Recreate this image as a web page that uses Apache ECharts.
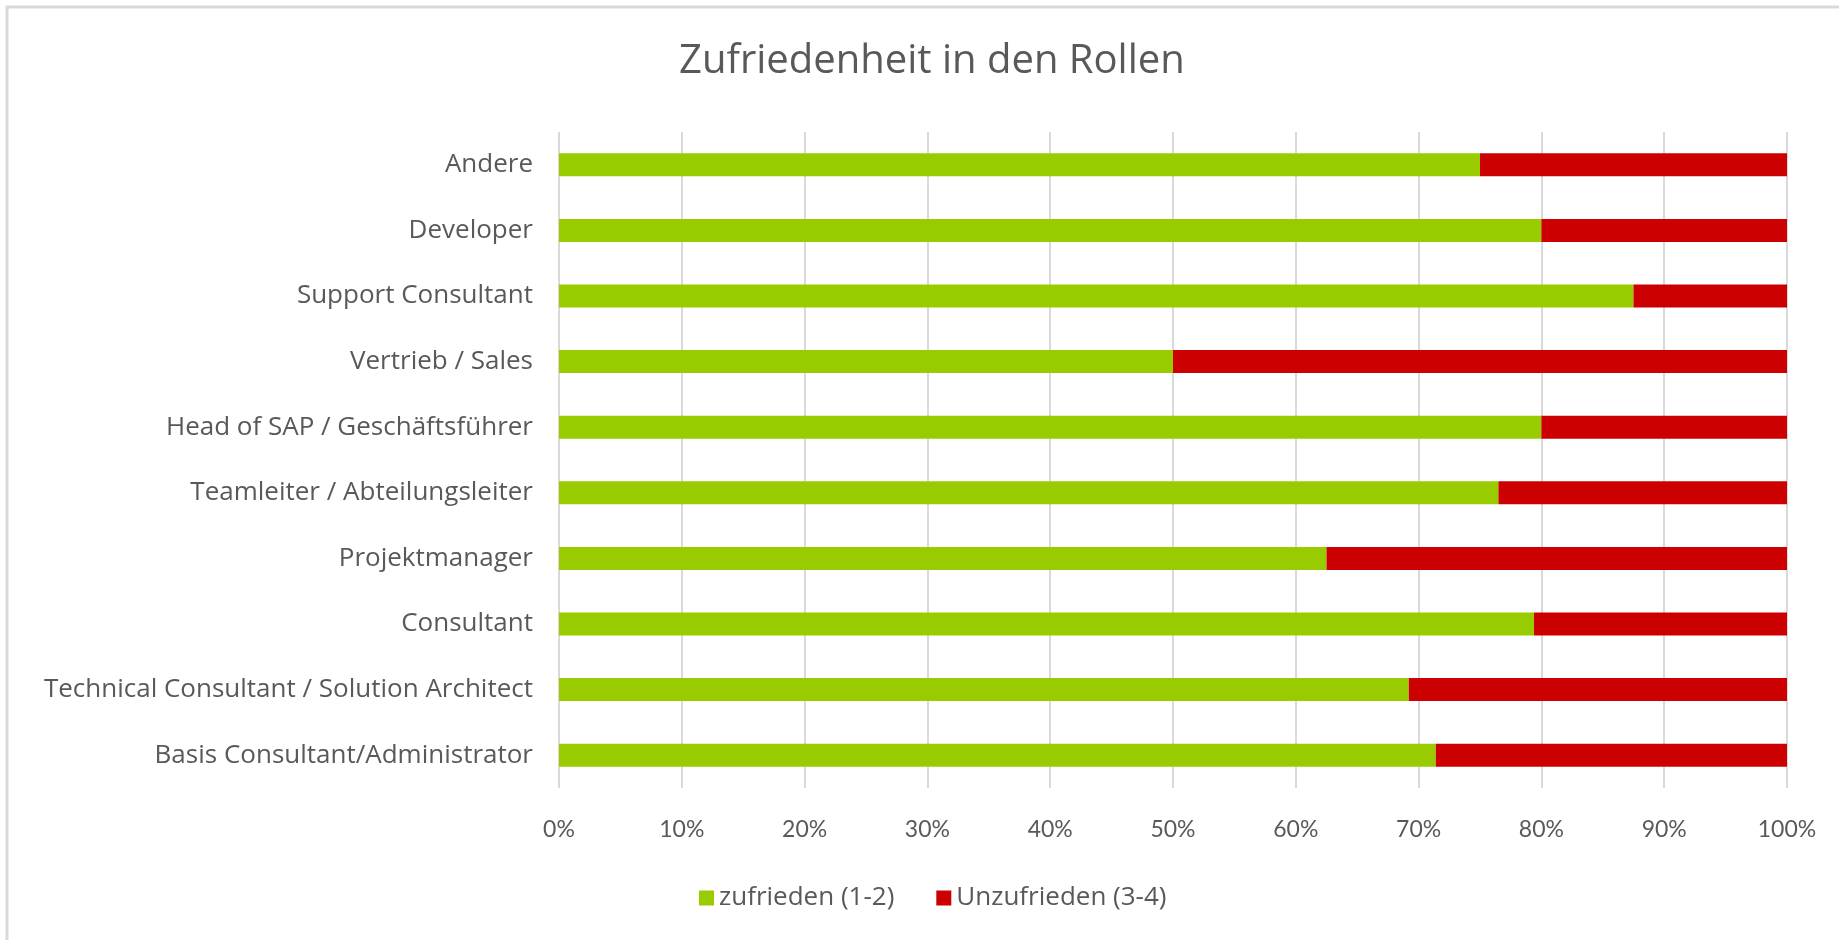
<!DOCTYPE html>
<html>
<head>
<meta charset="utf-8">
<script src="https://cdn.jsdelivr.net/npm/echarts@6/dist/echarts.min.js"></script>
<style>
  html, body { margin: 0; padding: 0; background: #fff; }
  #container_chart { width: 1839px; height: 940px; }
</style>
</head>
<body>
<div id="container_chart"></div>
<script>
// roles, bottom to top (as the category axis draws them)
const roles = [
    'Basis Consultant/Administrator',
    'Technical Consultant / Solution Architect',
    'Consultant',
    'Projektmanager',
    'Teamleiter / Abteilungsleiter',
    'Head of SAP / Geschäftsführer',
    'Vertrieb / Sales',
    'Support Consultant',
    'Developer',
    'Andere'
];

// share of satisfied answers in %
const zufrieden = [71.4, 69.2, 79.4, 62.5, 76.5, 80, 50, 87.5, 80, 75];
const unzufrieden = zufrieden.map(v => +(100 - v).toFixed(1));

const seriesNames = ['zufrieden (1-2)', 'Unzufrieden (3-4)'];
const tickLabels = ['0%', '10%', '20%', '30%', '40%', '50%', '60%', '70%', '80%', '90%', '100%'];

const textColor = '#595959';
const font = '"Open Sans", sans-serif';

let chart = echarts.init(document.getElementById('container_chart'));
chart.setOption({
    animation: false,
    color: ['#99CC00', '#CC0000'],
    title: {
        text: 'Zufriedenheit in den Rollen',
        left: 674,
        top: 37,
        textStyle: { color: textColor, fontSize: 40, fontWeight: 'normal', fontFamily: font }
    },
    legend: {
        bottom: 24,
        left: 694,
        itemWidth: 15,
        itemHeight: 15,
        itemGap: 42,
        icon: 'rect',
        textStyle: { color: textColor, fontSize: 26, fontFamily: font },
        data: seriesNames
    },
    grid: { left: 559, right: 52, top: 132, bottom: 152, containLabel: false },
    xAxis: {
        type: 'value',
        min: 0,
        max: 100,
        interval: 10,
        axisLine: { show: false },
        axisTick: { show: false },
        splitLine: { lineStyle: { color: '#d9d9d9', width: 2 } },
        axisLabel: {
            margin: 30,
            color: textColor,
            fontSize: 23,
            fontFamily: 'Lato, sans-serif',
            formatter: v => tickLabels[v / 10]
        }
    },
    yAxis: {
        type: 'category',
        data: roles,
        axisLine: { show: false },
        axisTick: { show: false },
        axisLabel: { margin: 26, color: textColor, fontSize: 26, fontFamily: font }
    },
    graphic: [{
        type: 'rect',
        shape: { x: 7, y: 7, width: 1900, height: 1000 },
        style: { fill: 'none', stroke: '#d9d9d9', lineWidth: 3 },
        silent: true
    }],
    series: [zufrieden, unzufrieden].map((data, i) => ({
        name: seriesNames[i],
        type: 'bar',
        stack: 'total',
        barWidth: 23,
        data
    }))
});
</script>
</body>
</html>
